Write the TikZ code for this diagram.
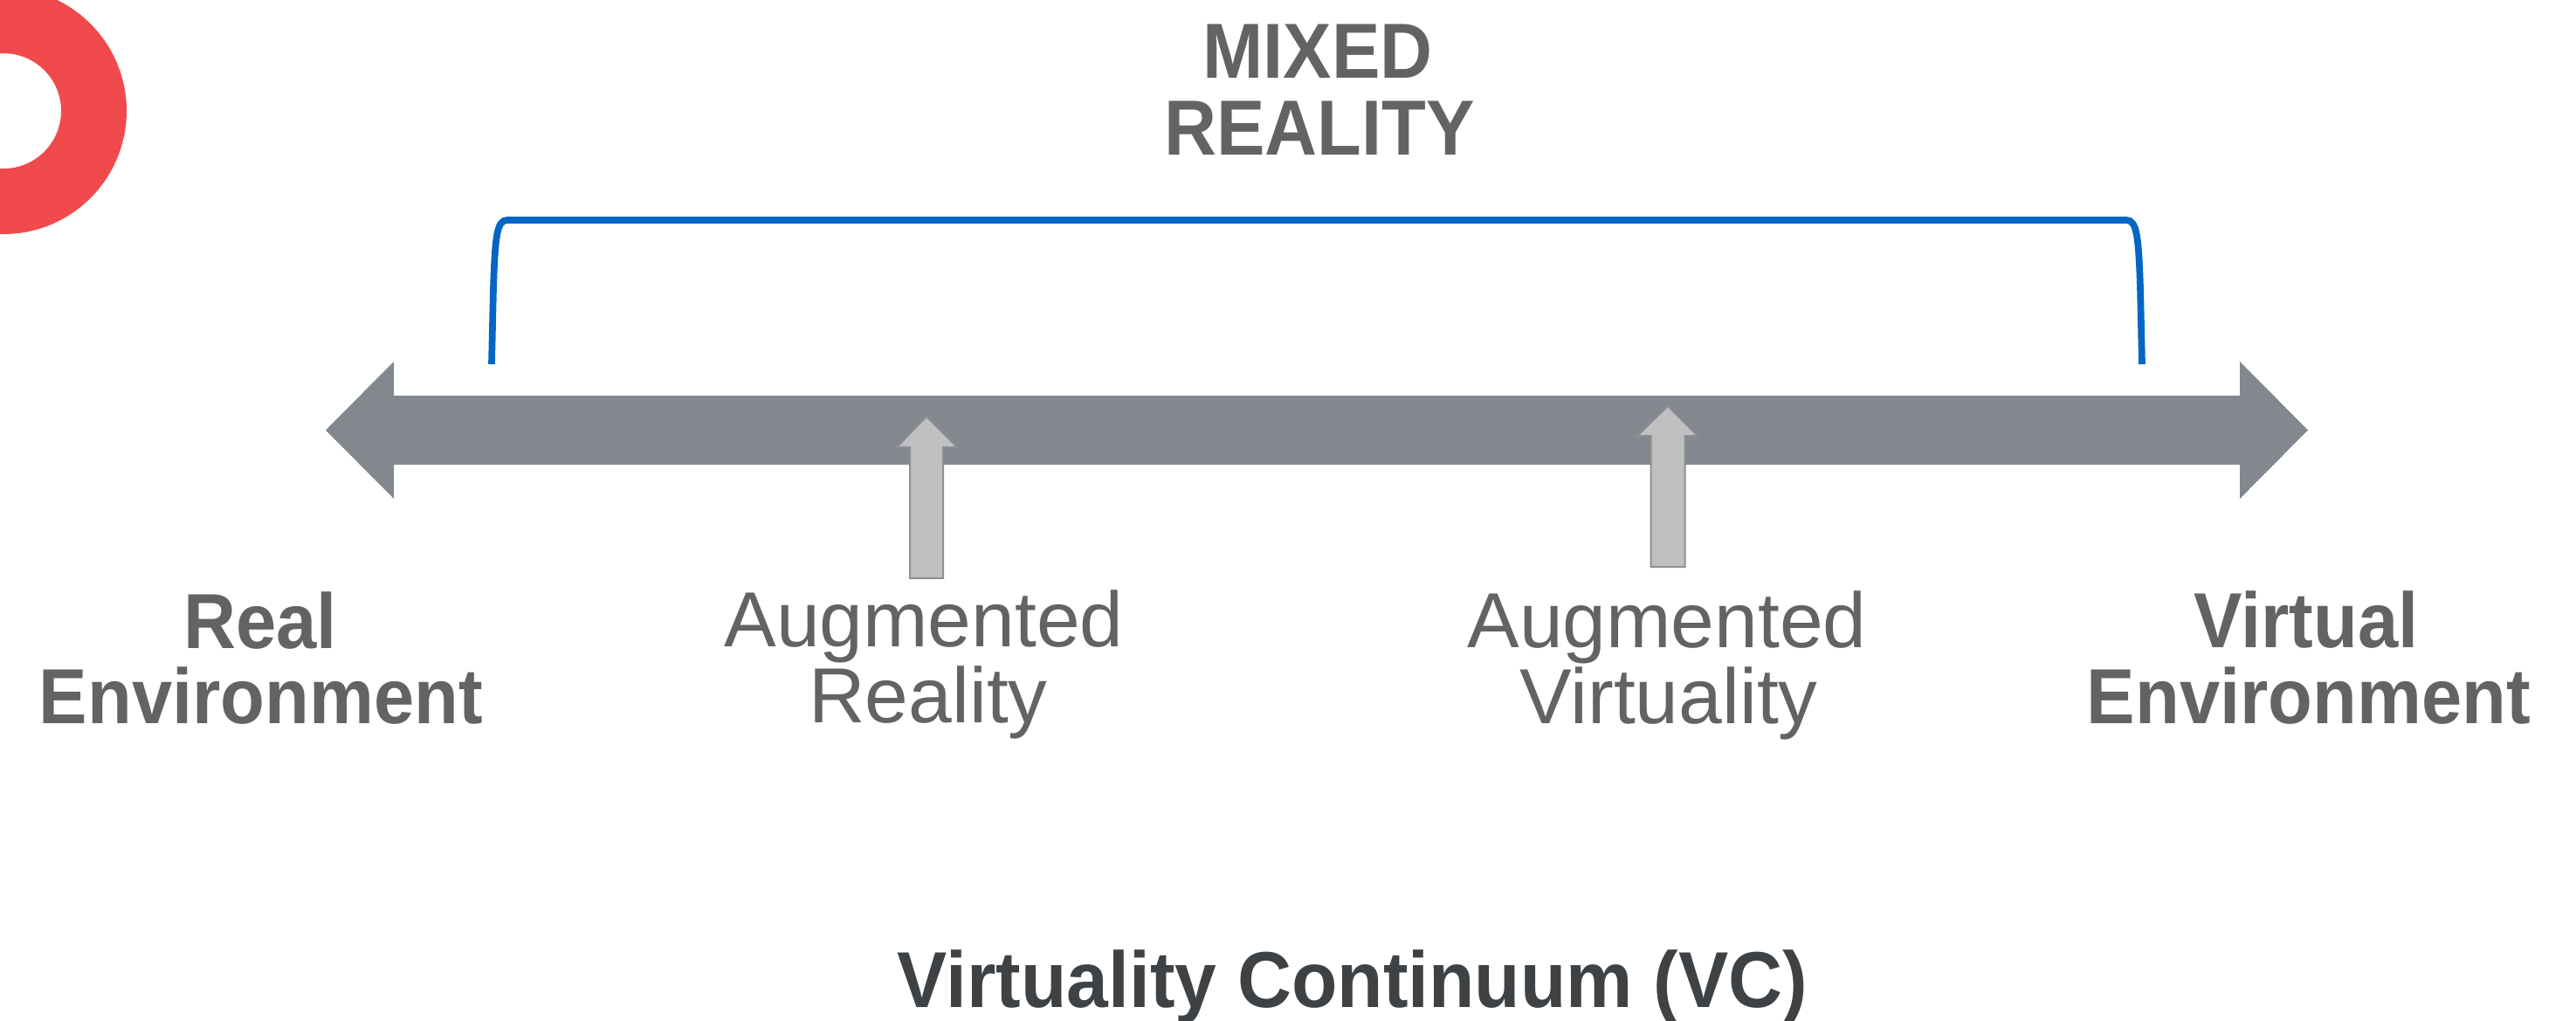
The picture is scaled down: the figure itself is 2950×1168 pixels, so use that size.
\documentclass[tikz,border=0pt]{standalone}
\usepackage{fontspec}
\setmainfont{Liberation Sans}
\newfontfamily\boldnarrow{Liberation Sans}[FakeStretch=0.93]
\newfontfamily\boldtitlefont{Liberation Sans}[FakeStretch=0.945]
\definecolor{ringred}{HTML}{F14A4D}
\definecolor{axisgray}{HTML}{83878E}
\definecolor{smallfill}{HTML}{C0C0C0}
\definecolor{smalledge}{HTML}{8C8F94}
\definecolor{mrblue}{HTML}{0366C4}
\definecolor{labelgray}{HTML}{636363}
\definecolor{titledark}{HTML}{3F4245}
\tikzset{
  boldlabel/.style={anchor=base, inner sep=0pt, text=labelgray, font=\boldnarrow\bfseries\fontsize{22.35}{26}\selectfont},
  thinlabel/.style={anchor=base, inner sep=0pt, text=labelgray, font=\fontsize{22.35}{26}\selectfont},
  titlelabel/.style={anchor=base, inner sep=0pt, text=titledark, font=\boldtitlefont\bfseries\fontsize{22.7}{26}\selectfont},
  smallarrow/.style={fill=smallfill, draw=smalledge, line width=0.5pt, line join=miter},
  bracket/.style={draw=mrblue, line width=1.93pt, line cap=butt}
}
\begin{document}
\begin{tikzpicture}[x=0.25pt, y=-0.25pt]
\useasboundingbox (0,0) rectangle (2950,1168);
% red ring
\fill[ringred, even odd rule] (4,127) circle[radius=141] (4,127) circle[radius=66];
% main continuum double arrow
\fill[axisgray] (373,492.5) -- (451,414) -- (451,453) -- (2565,453) -- (2565,414)
  -- (2643,492.5) -- (2565,571) -- (2565,532) -- (451,532) -- (451,571) -- cycle;
% small arrows
\draw[smallarrow] (1061,477) -- (1096,512) -- (1080,512) -- (1080,662) -- (1042,662)
  -- (1042,512) -- (1027,512) -- cycle;
\draw[smallarrow] (1910,465) -- (1944,499) -- (1929.5,499) -- (1929.5,649) -- (1890.5,649)
  -- (1890.5,499) -- (1875,499) -- cycle;
% mixed reality bracket
\coordinate (brL) at (563,417);
\coordinate (brR) at (2453,417);
\draw[bracket] (brL) -- (565,330) .. controls (567,270) and (569,252) .. (581,252)
  -- (2435,252) .. controls (2447,252) and (2449,270) .. (2451,330) -- (brR);
% labels
\node[boldlabel] (mixed1) at (1509,89) {MIXED};
\node[boldlabel] (mixed2) at (1511,177) {REALITY};
\node[boldlabel] (real1) at (298,742) {Real};
\node[boldlabel] (real2) at (299,828) {Environment};
\node[thinlabel] (ar1) at (1058,740) {Augmented};
\node[thinlabel] (ar2) at (1063,827) {Reality};
\node[thinlabel] (av1) at (1909,741) {Augmented};
\node[thinlabel] (av2) at (1911,828) {Virtuality};
\node[boldlabel] (virt1) at (2641,741) {Virtual};
\node[boldlabel] (virt2) at (2644,828) {Environment};
\node[titlelabel] (title) at (1549,1153) {Virtuality Continuum (VC)};
\end{tikzpicture}
\end{document}
